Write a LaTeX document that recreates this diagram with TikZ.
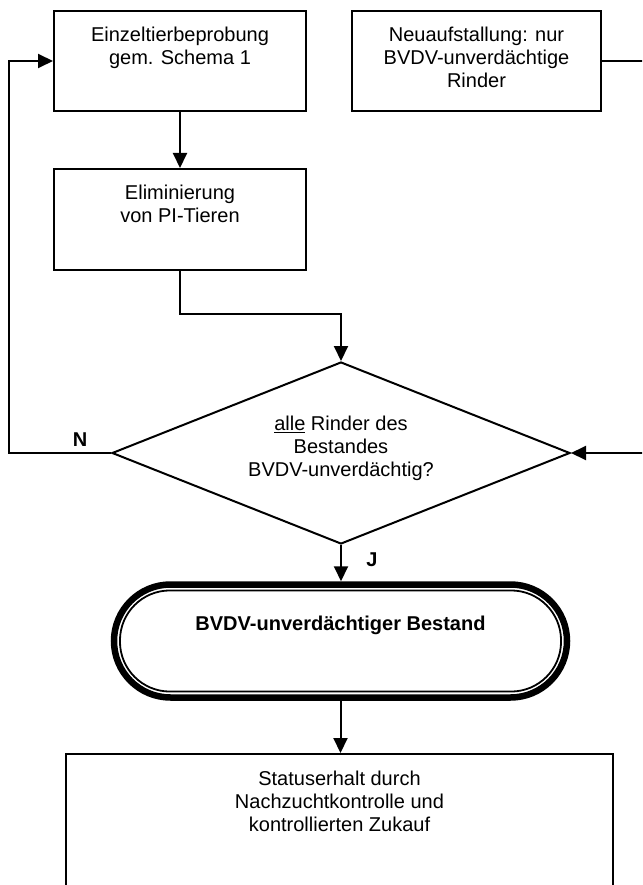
\documentclass[tikz,border=0pt]{standalone}
\usepackage{fontspec}
\setmainfont{Liberation Sans}
\usetikzlibrary{arrows.meta,shapes.geometric}
\newcommand{\tbx}[3]{\parbox[c][#2][t]{#1}{\centering\rule{0pt}{31pt}#3}}
\begin{document}
\begin{tikzpicture}[x=1pt,y=-1pt,line width=2pt,
  every node/.style={font=\fontsize{20pt}{23pt}\selectfont},
  box/.style={draw,inner sep=0pt,anchor=north west},
  lbl/.style={font=\fontsize{20pt}{23pt}\selectfont\bfseries},
  arr/.style={-{Triangle[length=15pt,width=14pt]}}]
\clip (0,0) rectangle (642,885);
\node[box] (b1) at (53,10) {\tbx{252pt}{100pt}{Einzeltierbeprobung\\gem. Schema 1}};
\node[box] (b2) at (351,10) {\tbx{249pt}{100pt}{Neuaufstallung: nur\\BVDV-unverdächtige\\Rinder}};
\node[box] (e) at (53,168) {\tbx{252pt}{101pt}{Eliminierung\\von PI-Tieren}};
\node[draw,diamond,aspect=2.5,inner sep=0pt,minimum width=458pt,minimum height=182pt] (d) at (341,453)
  {\raisebox{4.5pt}[\height][\depth]{\parbox{200pt}{\centering\underline{alle} Rinder des\\Bestandes\\BVDV-unverdächtig?}}};
\node[draw,line width=6.5pt,rounded corners=56.5pt,minimum width=453pt,minimum height=113pt,inner sep=0pt] (st) at (340.5,641)
  {\raisebox{16pt}[\height][\depth]{\bfseries BVDV-unverdächtiger Bestand}};
\draw[line width=1.8pt,rounded corners=50pt] ([shift={(9.2,9.2)}]st.north west) rectangle ([shift={(-9.2,-9.2)}]st.south east);
\node[box] (s) at (65,753) {\tbx{547pt}{150pt}{Statuserhalt durch\\Nachzuchtkontrolle und\\kontrollierten Zukauf}};
\coordinate (m) at (341,314);
\coordinate (lft) at (9,453);
\coordinate (rgt) at (650,61);
\draw[arr] (b1.south) -- (e.north);
\draw[arr] (e.south) |- (m) -- (d.north);
\draw[arr] (d.west) -- (lft) |- (b1.west);
\draw[arr] (b2.east) -- (rgt) |- (d.east);
\draw[arr] (d.south) -- (d.south |- st.north);
\draw[arr] (st.south) -- (st.south |- s.north);
\node[lbl] (n) at (80,440) {N};
\node[lbl] (j) at (372,560) {J};
\end{tikzpicture}
\end{document}
